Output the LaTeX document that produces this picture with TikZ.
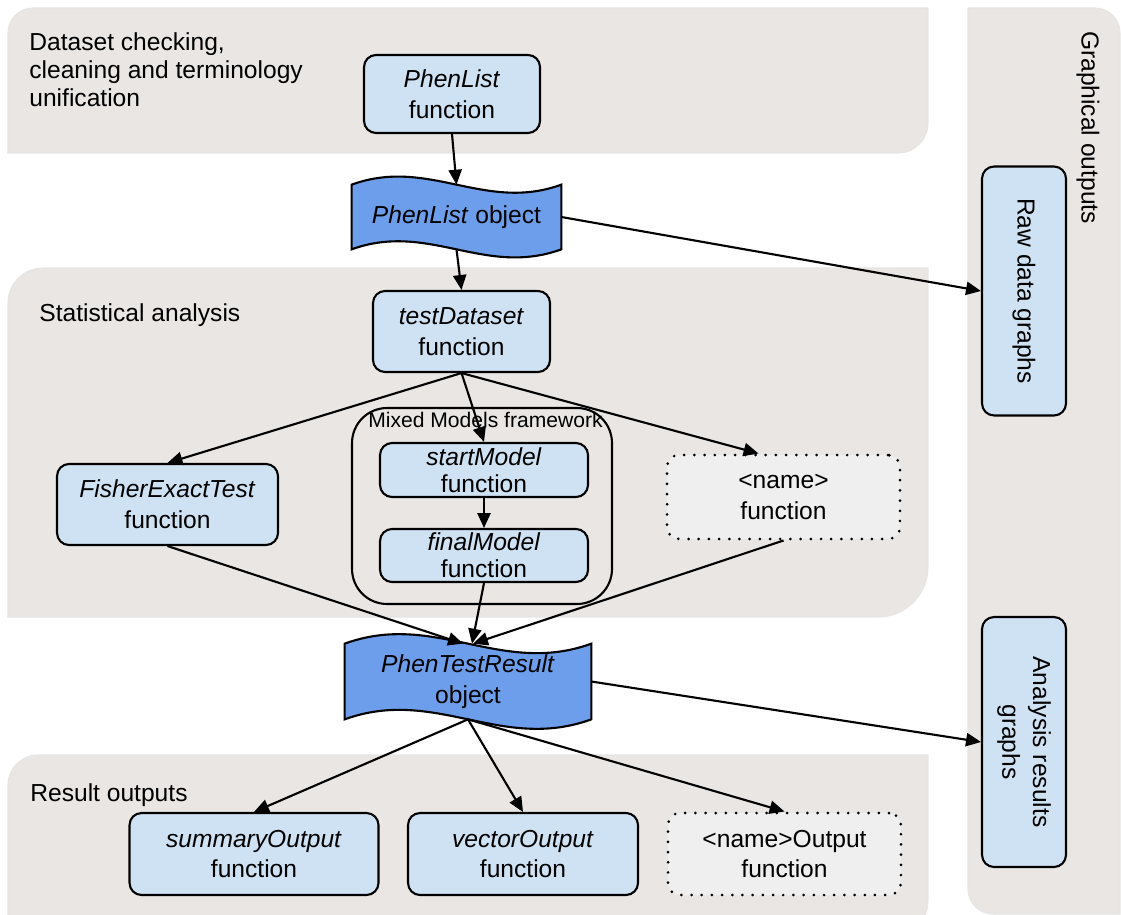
\documentclass[tikz,border=0pt]{standalone}
\usepackage{fontspec}
\setmainfont{Liberation Sans}
\usetikzlibrary{arrows.meta,positioning,calc,backgrounds}
\definecolor{pgray}{RGB}{234,230,228}
\definecolor{fnblue}{RGB}{207,226,243}
\definecolor{objblue}{RGB}{109,158,235}
\definecolor{dotgray}{RGB}{239,239,239}
\tikzset{
  panel/.style={fill=pgray, draw=black!10, line width=0.6pt},
  fnbox/.style={draw=black, line width=1.2pt, fill=fnblue, rounded corners=0.24cm, align=center, inner sep=2pt},
  mdbox/.style={fnbox, inner sep=0pt, font=\fontsize{14}{15.3}\selectfont},
  dotbox/.style={draw=black, line width=1.7pt, dash pattern=on 0pt off 5.8pt, line cap=round, fill=dotgray, rounded corners=0.24cm, align=center, inner sep=2pt},
  mmbox/.style={draw=black, line width=1.2pt, rounded corners=0.7cm},
  objtxt/.style={align=center, inner sep=0pt},
  objwave/.style={draw=black, line width=1.2pt, fill=objblue},
  lbl/.style={anchor=north west, inner sep=0pt, align=left},
  arr/.style={-{Triangle[length=8.5pt,width=7.5pt]}, line width=1.2pt},
}

\begin{document}
\begin{tikzpicture}[x=0.02cm, y=-0.02cm, font=\fontsize{14}{17.5}\selectfont]
  \useasboundingbox (0,0) rectangle (1121,915);

  % grey panels
  \begin{scope}[on background layer]
    \path[panel] (8,153) -- (8,33) arc[start angle=180, end angle=90, radius=0.5cm]
      -- (928,8) -- (928,123) arc[start angle=0, end angle=-90, radius=0.6cm] -- cycle;
    \path[panel] (8,617) -- (8,303) arc[start angle=180, end angle=90, radius=0.7cm]
      -- (928,268) -- (928,567) arc[start angle=0, end angle=-90, radius=1cm] -- cycle;
    \path[panel] (8,940) -- (8,785) arc[start angle=180, end angle=90, radius=0.6cm]
      -- (928,755) -- (928,900) arc[start angle=0, end angle=-90, radius=0.8cm] -- cycle;
    \path[panel] (968,8) -- (1095,8) arc[start angle=90, end angle=0, radius=0.5cm]
      -- (1120,914) -- (993,914) arc[start angle=270, end angle=180, radius=0.5cm] -- cycle;
  \end{scope}

  \node[lbl, font=\fontsize{14}{16}\selectfont] (dslbl) at (29,32) {Dataset checking,\\cleaning and terminology\\unification};
  \node[lbl] (salbl) at (39,303) {Statistical analysis};
  \node[lbl] (rolbl) at (30,783) {Result outputs};
  \node[rotate=-90, inner sep=0pt] (gout) at (1088,127.5) {Graphical outputs};

  % functions and objects
  \node[fnbox, minimum width=3.52cm, minimum height=1.56cm] (plfn) at (452,94) {\textit{PhenList}\\function};
  \node[objtxt, minimum width=4.18cm, minimum height=1.28cm] (plobj) at (456.5,217) {\textit{PhenList} object};
  \node[fnbox, minimum width=3.54cm, minimum height=1.62cm] (tdata) at (461.5,331.5) {\textit{testDataset}\\function};
  \node[mmbox, minimum width=5.2cm, minimum height=3.92cm] (mmfw) at (482,506) {};
  \node[inner sep=0pt, font=\fontsize{12}{14}\selectfont] (mmlbl) at (485.5,420) {Mixed Models framework};
  \node[mdbox, minimum width=4.16cm, minimum height=1.08cm] (stmod) at (484,470) {\textit{startModel}\\function};
  \node[mdbox, minimum width=4.16cm, minimum height=1.06cm] (fnmod) at (484,555.5) {\textit{finalModel}\\function};
  \node[fnbox, minimum width=4.42cm, minimum height=1.62cm] (fisher) at (167.5,504.5) {\textit{FisherExactTest}\\function};
  \node[dotbox, minimum width=4.66cm, minimum height=1.68cm] (namefn) at (783.5,497) {<name>\\function};
  \node[objtxt, minimum width=4.92cm, minimum height=1.5cm] (ptres) at (468,681.5) {\textit{PhenTestResult}\\object};
  \node[fnbox, minimum width=4.98cm, minimum height=1.64cm] (sumout) at (254,854) {\textit{summaryOutput}\\function};
  \node[fnbox, minimum width=4.6cm, minimum height=1.64cm] (vecout) at (523,854) {\textit{vectorOutput}\\function};
  \node[dotbox, minimum width=4.66cm, minimum height=1.64cm] (nameout) at (784.5,854) {<name>Output\\function};
  \node[fnbox, rotate=-90, minimum width=4.98cm, minimum height=1.68cm] (rawgr) at (1024,291) {Raw data graphs};
  \node[fnbox, rotate=-90, minimum width=5cm, minimum height=1.68cm] (angr) at (1024,742) {Analysis results\\graphs};

  % wavy object shapes
  \begin{scope}[on background layer]
    \draw[objwave] (plobj.north west) to[out=20, in=200] (plobj.north east)
      -- (plobj.south east) to[out=200, in=20] (plobj.south west) -- cycle;
    \draw[objwave] (ptres.north west) to[out=20, in=200] (ptres.north east)
      -- (ptres.south east) to[out=200, in=20] (ptres.south west) -- cycle;
  \end{scope}

  \draw[arr] (plfn.south) -- (plobj.north);
  \draw[arr] (plobj.east) -- (rawgr.south);
  \draw[arr] (plobj.south) -- (tdata.north);
  \draw[arr] (tdata.south) -- (fisher.north);
  \draw[arr] (tdata.south) -- (stmod.north);
  \draw[arr] (tdata.south) -- ([xshift=-0.5cm]namefn.north);
  \draw[arr] (stmod.south) -- (fnmod.north);
  \draw[arr] (fisher.south) -- ([xshift=-0.1cm]ptres.north);
  \draw[arr] (fnmod.south) -- ([xshift=0.08cm]ptres.north);
  \draw[arr] (namefn.south) -- ([xshift=0.1cm]ptres.north);
  \draw[arr] (ptres.east) -- (angr.south);
  \draw[arr] (ptres.south) -- (sumout.north);
  \draw[arr] (ptres.south) -- (vecout.north);
  \draw[arr] (ptres.south) -- (nameout.north);
\end{tikzpicture}
\end{document}
